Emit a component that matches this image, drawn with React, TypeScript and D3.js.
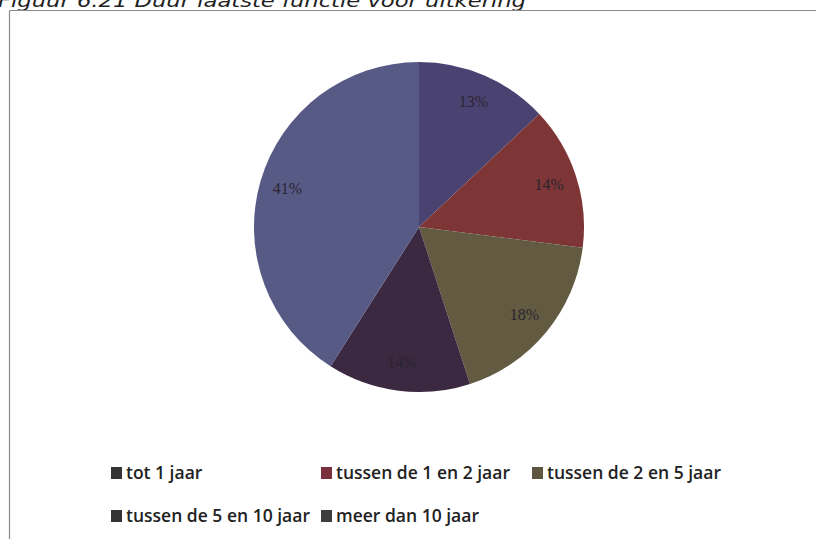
import React from "react";
import * as d3 from "d3";

const categories = [
  "tot 1 jaar",
  "tussen de 1 en 2 jaar",
  "tussen de 2 en 5 jaar",
  "tussen de 5 en 10 jaar",
  "meer dan 10 jaar",
];
const percentages = [13, 14, 18, 14, 41];
const sliceColors = ["#4a4270", "#7e3536", "#625a41", "#3b2841", "#585a86"];
const legendColors = ["#333333", "#7a2f3a", "#5e5640", "#333333", "#3d3d3d"];
const title = "Figuur 6.21 Duur laatste functie voor uitkering";

const cx = 419;
const cy = 227;
const radius = 165;

// legend slots (row, left x of the square)
const legendSlots = [
  { row: 0, x: 111 },
  { row: 0, x: 321 },
  { row: 0, x: 532 },
  { row: 1, x: 111 },
  { row: 1, x: 321 },
];
const legendRowY = [473, 516];

const App: React.FC = () => {
  const pie = d3
    .pie<number>()
    .sort(null)
    .value((d) => d);
  const slices = pie(percentages);

  const arc = d3.arc<d3.PieArcDatum<number>>().innerRadius(0).outerRadius(radius);
  // Excel-style labels sit at about 83% of the radius
  const labelArc = d3
    .arc<d3.PieArcDatum<number>>()
    .innerRadius(radius * 0.83)
    .outerRadius(radius * 0.83);

  return (
    <svg
      width={816}
      height={539}
      style={{ position: "absolute", left: 0, top: 0, background: "#ffffff" }}
    >
      {/* caption, cut off by the top edge like in the scan */}
      <text
        x={-2}
        y={7}
        fontFamily="DejaVu Sans"
        fontStyle="italic"
        fontSize={17}
        fill="#222"
        textLength={528}
        lengthAdjust="spacingAndGlyphs"
      >
        {title}
      </text>

      {/* chart frame */}
      <line x1={9.5} y1={10.5} x2={816} y2={10.5} stroke="#8a8a8a" strokeWidth={1.2} />
      <line x1={9.5} y1={10.5} x2={9.5} y2={539} stroke="#8a8a8a" strokeWidth={1.2} />

      <g transform={`translate(${cx},${cy})`}>
        {slices.map((s, i) => (
          <path key={categories[i]} d={arc(s) || ""} fill={sliceColors[i]} />
        ))}
        {slices.map((s, i) => {
          const [lx, ly] = labelArc.centroid(s);
          return (
            <text
              key={"l" + i}
              x={lx}
              y={ly}
              dy="0.35em"
              textAnchor="middle"
              fontFamily="Liberation Serif"
              fontSize={16}
              fill="#2a2530"
            >
              {percentages[i]}%
            </text>
          );
        })}
      </g>

      {categories.map((c, i) => {
        const slot = legendSlots[i];
        const y = legendRowY[slot.row];
        return (
          <g key={"lg" + i}>
            <rect x={slot.x} y={y - 6} width={11} height={12} fill={legendColors[i]} />
            <text
              x={slot.x + 15}
              y={y}
              dy="0.35em"
              fontFamily="Open Sans"
              fontWeight={600}
              fontSize={17.5}
              fill="#222"
            >
              {c}
            </text>
          </g>
        );
      })}
    </svg>
  );
};

export default App;
